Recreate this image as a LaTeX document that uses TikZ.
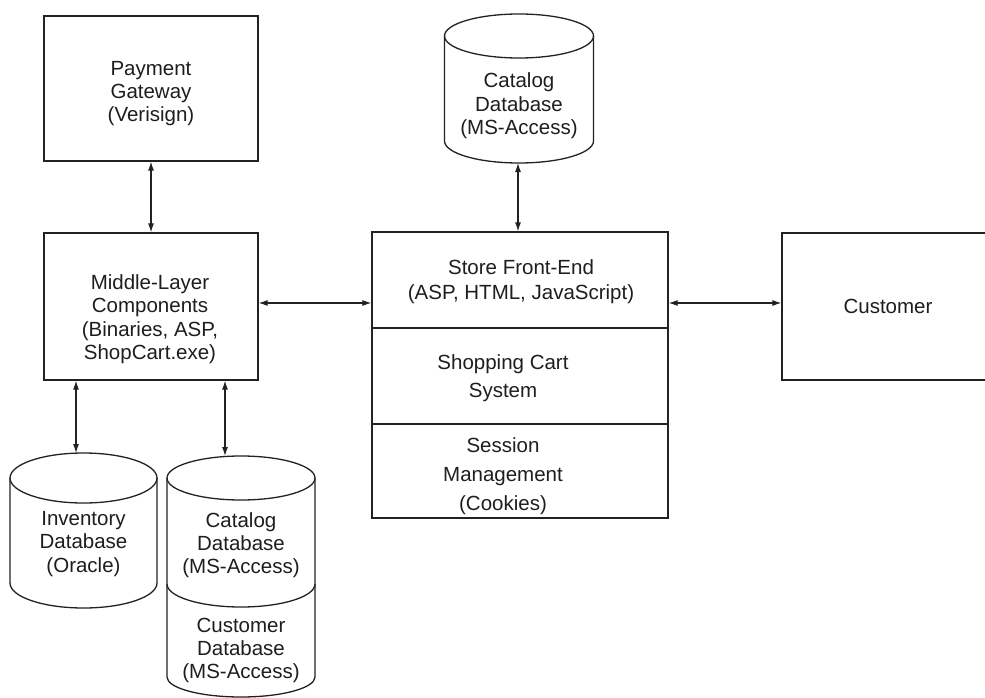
\documentclass[tikz,border=0pt]{standalone}
\usepackage{fontspec}
\setmainfont{Liberation Sans}
\usetikzlibrary{arrows.meta}
\definecolor{ink}{HTML}{222222}
\definecolor{txt}{HTML}{1E1E1E}
\begin{document}
\begin{tikzpicture}[x=1pt,y=-1pt,
  outline/.style={draw=ink,line width=1.3pt},
  blockbox/.style={outline,rectangle,inner sep=0pt},
  lbl/.style={text=txt,align=center,inner sep=0pt,font=\fontsize{20.5}{#1}\selectfont},
  lbl/.default=23.5,
  conn/.style={draw=ink,line width=1.1pt,{Latex[length=9pt,width=6pt]}-{Latex[length=9pt,width=6pt]}}]
\clip (0,0) rectangle (985,698);
\fill[white] (0,0) rectangle (985,698);

% --- boxes ---
\node[blockbox,minimum width=214pt,minimum height=145pt] (pay) at (151,88.5) {};
\node[lbl=23] (paytxt) at (151,94) {Payment\\Gateway\\(Verisign)};

\node[blockbox,minimum width=214pt,minimum height=147pt] (mid) at (151,306.5) {};
\node[lbl=23.5] (midtxt) at (150,319) {Middle-Layer\\Components\\(Binaries, ASP,\\ShopCart.exe)};

% store front-end stack
\node[blockbox,minimum width=296pt,minimum height=96pt] (sfe) at (520,280) {};
\node[blockbox,minimum width=296pt,minimum height=96pt] (scs) at (520,376) {};
\node[blockbox,minimum width=296pt,minimum height=94pt] (ssm) at (520,471) {};
\node[lbl=25] (sfetxt) at (521,281.5) {Store Front-End\\(ASP, HTML, JavaScript)};
\node[lbl=28] (scstxt) at (503,378) {Shopping Cart\\System};
\node[lbl=29] (ssmtxt) at (503,476) {Session\\Management\\(Cookies)};

% customer (right edge runs off the page)
\node[blockbox,minimum width=212pt,minimum height=147pt] (cust) at (888,306.5) {};
\node[lbl] (custtxt) at (888,306) {Customer};

% --- databases ---
% catalog database above the store
\draw[outline] (519,36) ellipse [x radius=74.5pt,y radius=22pt];
\draw[outline] (444.5,36) -- (444.5,141)
  arc[start angle=180,end angle=360,x radius=74.5pt,y radius=22pt] -- (593.5,36);
\node[lbl=23.5] (cattop) at (519,106) {Catalog\\Database\\(MS-Access)};
\coordinate (catA) at (518,163);

% inventory database
\draw[outline] (83.5,478) ellipse [x radius=73.5pt,y radius=25pt];
\draw[outline] (10,478) -- (10,583)
  arc[start angle=180,end angle=360,x radius=73.5pt,y radius=25pt] -- (157,478);
\node[lbl=23.5] (invtxt) at (83.5,544) {Inventory\\Database\\(Oracle)};
\coordinate (invA) at (76,453);

% stacked catalog / customer databases
\draw[outline] (241,478) ellipse [x radius=74pt,y radius=22pt];
\draw[outline] (167,478) -- (167,584)
  arc[start angle=180,end angle=360,x radius=74pt,y radius=23pt] -- (315,478);
\draw[outline] (167,584) -- (167,677)
  arc[start angle=180,end angle=360,x radius=74pt,y radius=20pt] -- (315,584);
\node[lbl=23] (catlow) at (241,545) {Catalog\\Database\\(MS-Access)};
\node[lbl=23] (custdb) at (241,650) {Customer\\Database\\(MS-Access)};
\coordinate (catB) at (225,456);

% --- connectors ---
\coordinate (hrow) at (0,303);
\draw[conn] (pay.south) -- (mid.north);
\draw[conn] (mid.east |- hrow) -- (sfe.west |- hrow);
\draw[conn] (sfe.east |- hrow) -- (cust.west |- hrow);
\draw[conn] (catA) -- (catA |- sfe.north);
\draw[conn] (invA |- mid.south) -- (invA);
\draw[conn] (catB |- mid.south) -- (catB);
\end{tikzpicture}
\end{document}
